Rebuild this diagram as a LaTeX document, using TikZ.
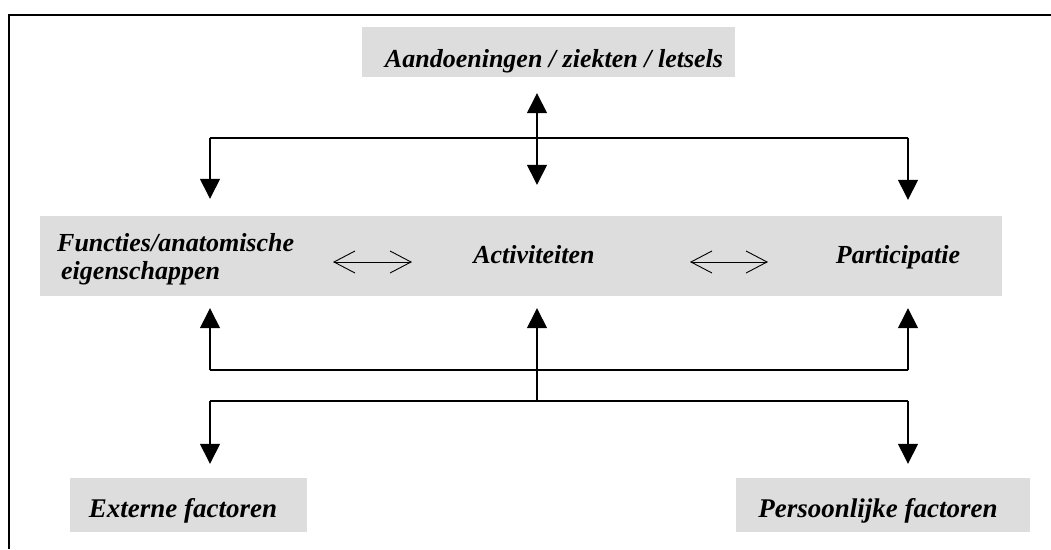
\documentclass[tikz,border=0pt]{standalone}
\usepackage{fontspec}
\setmainfont{Liberation Serif}
\usetikzlibrary{arrows.meta}
\definecolor{boxgray}{RGB}{221,221,221}
\begin{document}
\begin{tikzpicture}[x=1pt,y=-1pt,
  lbl/.style={font=\fontsize{26}{28}\selectfont\bfseries\itshape, inner sep=0pt},
  lblb/.style={font=\fontsize{27}{29}\selectfont\bfseries\itshape, inner sep=0pt},
  gbox/.style={fill=boxgray, draw=none, inner sep=0pt},
  conn/.style={line width=1.4pt, draw=black},
  tri/.style={conn, -{Triangle[length=20pt,width=20pt]}},
  dtri/.style={conn, {Triangle[length=20pt,width=20pt]}-{Triangle[length=20pt,width=20pt]}},
  dbl/.style={line width=0.9pt, draw=black, {Straight Barb[length=21pt,width=22pt]}-{Straight Barb[length=21pt,width=22pt]}}]
\useasboundingbox (0,0) rectangle (1051,549);
\draw[line width=2pt] (9,549) -- (9,15) -- (1051,15);

% boxes
\node[gbox, minimum width=373pt, minimum height=50pt] (aand) at (548.5,52) {};
\node[lbl, anchor=base] (aandt) at (554,67) {Aandoeningen / ziekten / letsels};
\node[gbox, minimum width=962pt, minimum height=80pt] (band) at (521,256) {};
\node[lbl, anchor=west, align=left] (func) at (57,259) {Functies/anatomische\\\hspace*{4pt}eigenschappen};
\node[lbl, anchor=base] (act) at (534,263) {Activiteiten};
\node[lbl, anchor=base] (part) at (898,263) {Participatie};
\node[gbox, minimum width=237pt, minimum height=54pt] (ext) at (188.5,505) {};
\node[lblb, anchor=base] (extt) at (183,517) {Externe factoren};
\node[gbox, minimum width=294pt, minimum height=54pt] (pers) at (883,505) {};
\node[lblb, anchor=base] (perst) at (878,517) {Persoonlijke factoren};

% junctions
\coordinate (tl) at (210,138); \coordinate (tc) at (537,138); \coordinate (tr) at (908,138);
\coordinate (ml) at (210,370); \coordinate (mc) at (537,370); \coordinate (mr) at (908,370);
\coordinate (bl) at (210,401); \coordinate (bc) at (537,401); \coordinate (br) at (908,401);
\coordinate (dl) at (333,262); \coordinate (dr) at (412,262);
\coordinate (el) at (690,262); \coordinate (er) at (768,262);

% top connectors
\draw[conn] (tl) -- (tr);
\draw[tri, shorten >=17pt] (tl) -- (tl |- band.north);
\draw[tri, shorten >=16pt] (tr) -- (tr |- band.north);
\draw[dtri, shorten <=16pt, shorten >=31pt] (tc |- aand.south) -- (tc |- band.north);

% open double arrows
\draw[dbl] (dl) -- (dr);
\draw[dbl] (el) -- (er);

% bottom connectors
\draw[conn] (ml) -- (mr);
\draw[tri, shorten >=12pt] (ml) -- (ml |- band.south);
\draw[tri, shorten >=12pt] (mr) -- (mr |- band.south);
\draw[tri, shorten >=12pt] (bc) -- (bc |- band.south);
\draw[conn] (bl) -- (br);
\draw[tri, shorten >=14pt] (bl) -- (bl |- ext.north);
\draw[tri, shorten >=14pt] (br) -- (br |- pers.north);
\end{tikzpicture}
\end{document}
